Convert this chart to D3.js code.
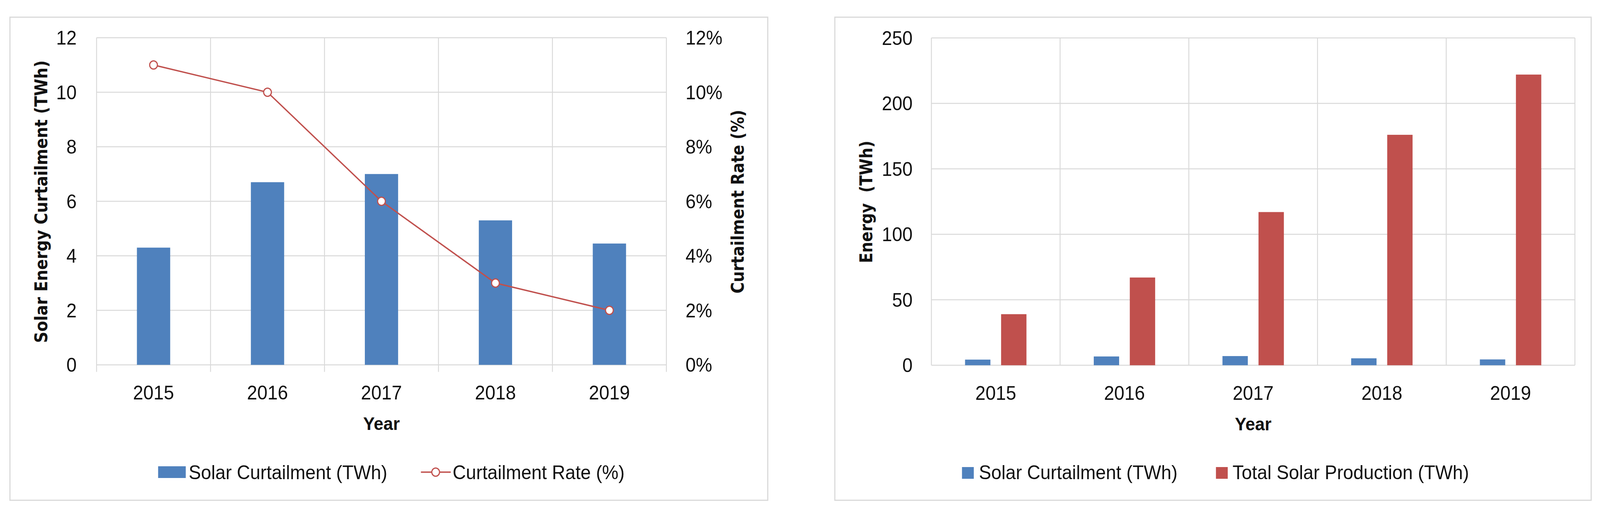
<!DOCTYPE html>
<html>
<head>
<meta charset="utf-8">
<script src="https://cdn.jsdelivr.net/npm/d3@7"></script>
<style>
  html, body { margin: 0; padding: 0; background: #fff; overflow: hidden; }
  svg { display: block; width: 100vw; height: 100vh; }
</style>
</head>
<body>
<svg id="chart" viewBox="0 0 4341 1310" preserveAspectRatio="none"></svg>
<script>
// ---------- DATA ----------
const years = ["2015", "2016", "2017", "2018", "2019"];
const solarCurtailment = [4.3, 6.7, 7.0, 5.3, 4.45];          // TWh
const curtailmentRate = [0.11, 0.10, 0.06, 0.03, 0.02];        // fraction
const totalSolarProduction = [39, 67, 117, 176, 222];          // TWh
const leftTicks = [0, 2, 4, 6, 8, 10, 12];
const rateTicks = [0, 0.02, 0.04, 0.06, 0.08, 0.10, 0.12];
const energyTicks = [0, 50, 100, 150, 200, 250];
const legendLeft = ["Solar Curtailment (TWh)", "Curtailment Rate (%)"];
const legendRight = ["Solar Curtailment (TWh)", "Total Solar Production (TWh)"];

// ---------- STYLE ----------
const BLUE = "#4F81BD", RED = "#C0504D", GRID = "#D9D9D9", BORDER = "#D9D9D9", TXT = "#111";
const TICK_FONT = "'Liberation Sans', Arial, sans-serif";
const TITLE_FONT = "'DejaVu Sans', Verdana, sans-serif";

const svg = d3.select("#chart");
svg.append("rect").attr("width", 4341).attr("height", 1310).attr("fill", "#fff");

function panelFrame(x0, y0, x1, y1) {
  svg.append("rect").attr("x", x0).attr("y", y0).attr("width", x1 - x0).attr("height", y1 - y0)
    .attr("fill", "#fff").attr("stroke", BORDER).attr("stroke-width", 3);
}

function rotTitle(g, text, x, y, len) {
  g.append("text")
    .attr("transform", `translate(${x},${y}) rotate(-90)`)
    .attr("text-anchor", "middle")
    .attr("font-family", TITLE_FONT).attr("font-weight", "bold").attr("font-size", 48)
    .attr("fill", TXT)
    .attr("textLength", len).attr("lengthAdjust", "spacingAndGlyphs")
    .style("white-space", "pre")
    .text(text);
}

// ================= LEFT PANEL =================
panelFrame(27, 44, 2083, 1280);
{
  const g = svg.append("g");
  const x = d3.scaleBand().domain(years).range([262, 1808]).padding(0);
  const y = d3.scaleLinear().domain([0, 12]).range([933.5, 96.5]);
  const y2 = d3.scaleLinear().domain([0, 0.12]).range([933.5, 96.5]);

  g.selectAll(".hg").data(leftTicks).join("line")
    .attr("x1", x.range()[0]).attr("x2", x.range()[1])
    .attr("y1", d => y(d)).attr("y2", d => y(d))
    .attr("stroke", GRID).attr("stroke-width", 2.5);
  const bounds = years.map(d => x(d)).concat([x.range()[1]]);
  g.selectAll(".vg").data(bounds).join("line")
    .attr("x1", d => d).attr("x2", d => d)
    .attr("y1", y(12)).attr("y2", y(0) + 18)
    .attr("stroke", GRID).attr("stroke-width", 2.5);

  const bw = x.bandwidth() * 0.292;
  g.selectAll(".bar").data(years).join("rect")
    .attr("x", (d) => x(d) + x.bandwidth() / 2 - bw / 2)
    .attr("y", (d, i) => y(solarCurtailment[i]))
    .attr("width", bw)
    .attr("height", (d, i) => y(0) - y(solarCurtailment[i]))
    .attr("fill", BLUE);

  const line = d3.line().x((d, i) => x(years[i]) + x.bandwidth() / 2).y(d => y2(d));
  g.append("path").datum(curtailmentRate).attr("d", line)
    .attr("fill", "none").attr("stroke", RED).attr("stroke-width", 3.5);
  g.selectAll(".pt").data(curtailmentRate).join("circle")
    .attr("cx", (d, i) => x(years[i]) + x.bandwidth() / 2)
    .attr("cy", d => y2(d)).attr("r", 10.5)
    .attr("fill", "#fff").attr("stroke", RED).attr("stroke-width", 3);

  g.selectAll(".yl").data(leftTicks).join("text")
    .attr("x", 208).attr("y", d => y(d)).attr("dy", "0.36em")
    .attr("text-anchor", "end").attr("font-family", TICK_FONT).attr("font-size", 50).attr("fill", TXT)
    .text(d => d);
  const pf = d3.format(".0%");
  g.selectAll(".yr").data(rateTicks).join("text")
    .attr("x", 1860).attr("y", d => y2(d)).attr("dy", "0.36em")
    .attr("text-anchor", "start").attr("font-family", TICK_FONT).attr("font-size", 50).attr("fill", TXT)
    .text(d => pf(d));
  g.selectAll(".xl").data(years).join("text")
    .attr("x", d => x(d) + x.bandwidth() / 2).attr("y", 1022)
    .attr("text-anchor", "middle").attr("font-family", TICK_FONT).attr("font-size", 50).attr("fill", TXT)
    .text(d => d);
  g.append("text").attr("x", (x.range()[0] + x.range()[1]) / 2).attr("y", 1100)
    .attr("text-anchor", "middle").attr("font-family", TICK_FONT).attr("font-weight", "bold")
    .attr("font-size", 47).attr("fill", TXT).text("Year");
  rotTitle(g, "Solar Energy Curtailment (TWh)", 128, 516, 723);
  rotTitle(g, "Curtailment Rate (%)", 2018, 516, 470);

  g.append("rect").attr("x", 429).attr("y", 1193).attr("width", 75).attr("height", 30).attr("fill", BLUE);
  g.append("text").attr("x", 512).attr("y", 1226).attr("font-family", TICK_FONT).attr("font-size", 50)
    .attr("fill", TXT).text(legendLeft[0]);
  g.append("line").attr("x1", 1142).attr("x2", 1223).attr("y1", 1208).attr("y2", 1208)
    .attr("stroke", RED).attr("stroke-width", 3.5);
  g.append("circle").attr("cx", 1182).attr("cy", 1208).attr("r", 10.5)
    .attr("fill", "#fff").attr("stroke", RED).attr("stroke-width", 3);
  g.append("text").attr("x", 1228).attr("y", 1226).attr("font-family", TICK_FONT).attr("font-size", 50)
    .attr("fill", TXT).text(legendLeft[1]);
}

// ================= RIGHT PANEL =================
panelFrame(2265, 44, 4317, 1280);
{
  const g = svg.append("g");
  const x = d3.scaleBand().domain(years).range([2527, 4273]).padding(0);
  const y = d3.scaleLinear().domain([0, 250]).range([934.5, 97]);

  g.selectAll(".hg").data(energyTicks).join("line")
    .attr("x1", x.range()[0]).attr("x2", x.range()[1])
    .attr("y1", d => y(d)).attr("y2", d => y(d))
    .attr("stroke", GRID).attr("stroke-width", 2.5);
  const bounds = years.map(d => x(d)).concat([x.range()[1]]);
  g.selectAll(".vg").data(bounds).join("line")
    .attr("x1", d => d).attr("x2", d => d)
    .attr("y1", y(250)).attr("y2", y(0))
    .attr("stroke", GRID).attr("stroke-width", 2.5);

  const bw = x.bandwidth() * 0.197;
  const off = x.bandwidth() * 0.14;
  g.selectAll(".b1").data(years).join("rect")
    .attr("x", d => x(d) + x.bandwidth() / 2 - off - bw / 2)
    .attr("y", (d, i) => y(solarCurtailment[i]))
    .attr("width", bw).attr("height", (d, i) => y(0) - y(solarCurtailment[i]))
    .attr("fill", BLUE);
  g.selectAll(".b2").data(years).join("rect")
    .attr("x", d => x(d) + x.bandwidth() / 2 + off - bw / 2)
    .attr("y", (d, i) => y(totalSolarProduction[i]))
    .attr("width", bw).attr("height", (d, i) => y(0) - y(totalSolarProduction[i]))
    .attr("fill", RED);

  g.selectAll(".yl").data(energyTicks).join("text")
    .attr("x", 2476).attr("y", d => y(d)).attr("dy", "0.36em")
    .attr("text-anchor", "end").attr("font-family", TICK_FONT).attr("font-size", 50).attr("fill", TXT)
    .text(d => d);
  g.selectAll(".xl").data(years).join("text")
    .attr("x", d => x(d) + x.bandwidth() / 2).attr("y", 1023)
    .attr("text-anchor", "middle").attr("font-family", TICK_FONT).attr("font-size", 50).attr("fill", TXT)
    .text(d => d);
  g.append("text").attr("x", (x.range()[0] + x.range()[1]) / 2).attr("y", 1101)
    .attr("text-anchor", "middle").attr("font-family", TICK_FONT).attr("font-weight", "bold")
    .attr("font-size", 47).attr("fill", TXT).text("Year");
  rotTitle(g, "Energy  (TWh)", 2367, 516.5, 313);

  g.append("rect").attr("x", 2610).attr("y", 1195).attr("width", 32).attr("height", 30).attr("fill", BLUE);
  g.append("text").attr("x", 2656).attr("y", 1226).attr("font-family", TICK_FONT).attr("font-size", 50)
    .attr("fill", TXT).text(legendRight[0]);
  g.append("rect").attr("x", 3299).attr("y", 1195).attr("width", 32).attr("height", 30).attr("fill", RED);
  g.append("text").attr("x", 3344).attr("y", 1226).attr("font-family", TICK_FONT).attr("font-size", 50)
    .attr("fill", TXT).text(legendRight[1]);
}
</script>
</body>
</html>
